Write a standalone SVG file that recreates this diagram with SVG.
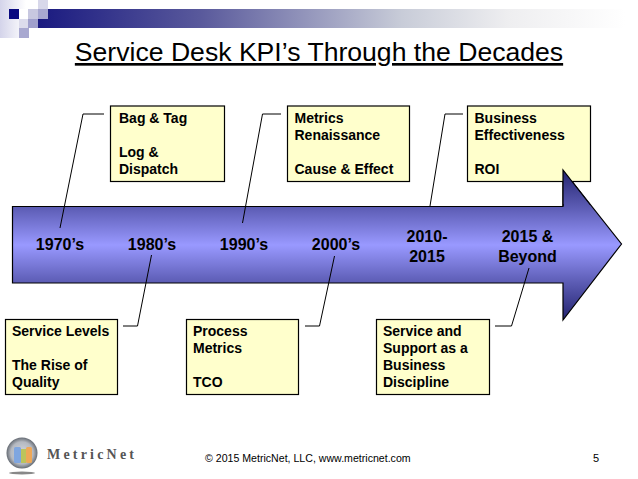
<svg xmlns="http://www.w3.org/2000/svg" width="638" height="479" viewBox="0 0 638 479">
<defs>
<linearGradient id="bar" gradientUnits="userSpaceOnUse" x1="38" x2="625" y1="0" y2="0"><stop offset="0" stop-color="#1a1a80"/><stop offset="0.28" stop-color="#5a5a9c"/><stop offset="0.62" stop-color="#c8ccd8"/><stop offset="0.8" stop-color="#eeeef0"/><stop offset="1" stop-color="#ffffff"/></linearGradient>
<linearGradient id="strip" x1="0" x2="1" y1="0" y2="0"><stop offset="0" stop-color="#d4d4ea"/><stop offset="1" stop-color="#ffffff"/></linearGradient>
<linearGradient id="arrow" gradientUnits="userSpaceOnUse" x1="0" y1="170" x2="0" y2="320"><stop offset="0" stop-color="#23236f"/><stop offset="0.25" stop-color="#5c5cb4"/><stop offset="0.5" stop-color="#9999ff"/><stop offset="0.75" stop-color="#5c5cb4"/><stop offset="1" stop-color="#23236f"/></linearGradient>
<radialGradient id="globe"><stop offset="0" stop-color="#d4d8de"/><stop offset="0.72" stop-color="#b4b8c0"/><stop offset="1" stop-color="#666c74"/></radialGradient>
</defs>
<style>
text{font-family:"Liberation Sans",Arial,sans-serif;fill:#000}
.box{fill:#ffffcc;stroke:#000;stroke-width:1.2}
.t{font-size:14px;font-weight:bold}
.y{font-size:16px;font-weight:bold;text-anchor:middle}
.c{fill:none;stroke:#000;stroke-width:1}
</style>
<rect width="638" height="479" fill="#fff"/>
<g id="header">
<rect x="38" y="9" width="600" height="19" fill="url(#bar)"/>
<rect x="0" y="0" width="26" height="38" fill="url(#strip)"/>
<rect x="9" y="9" width="10" height="10" fill="#0a0a80"/>
<rect x="19" y="9" width="9" height="10" fill="#ffffff"/>
<rect x="28" y="9" width="10" height="10" fill="#c8c8e0"/>
<rect x="38" y="9" width="10" height="10" fill="#a8a8d0"/>
<rect x="38" y="0" width="10" height="9" fill="#d8d8ea"/>
<rect x="19" y="19" width="10" height="9" fill="#dcdcec"/>
<rect x="28" y="19" width="10" height="9" fill="#a0a0cc"/>
<rect x="19" y="28" width="10" height="10" fill="#a8a8d0"/>
</g>
<text id="title" x="319" y="61" font-size="26.600" text-anchor="middle" text-decoration="underline">Service Desk KPI’s Through the Decades</text>
<g id="timeline-arrow"><path d="M12.500 206.500H563V170L621.500 244L563 320V283H12.500Z" fill="url(#arrow)" stroke="#000" stroke-width="1.200"/></g>
<g id="connectors">
<path class="c" d="M60 228L83 114H104"/>
<path class="c" d="M151.500 255L137.500 326H123"/>
<path class="c" d="M242.500 223L262.500 114H281"/>
<path class="c" d="M334.500 256L319.500 326H305"/>
<path class="c" d="M430 206L445 114H463"/>
<path class="c" d="M529 268L511.500 326H495"/>
</g>
<g id="box-bag"><rect class="box" x="110.500" y="106" width="114" height="75.500"/><text class="t" x="119" y="123">Bag &amp; Tag</text><text class="t" x="119" y="157">Log &amp;</text><text class="t" x="119" y="174">Dispatch</text></g>
<g id="box-metrics"><rect class="box" x="287.500" y="106" width="122" height="75.500"/><text class="t" x="294.500" y="123">Metrics</text><text class="t" x="294.500" y="140">Renaissance</text><text class="t" x="294.500" y="174">Cause &amp; Effect</text></g>
<g id="box-business"><rect class="box" x="467.500" y="106" width="123" height="75.500"/><text class="t" x="474.500" y="123">Business</text><text class="t" x="474.500" y="140">Effectiveness</text><text class="t" x="474.500" y="174">ROI</text></g>
<path d="M563 170L590 204H563Z" fill="url(#arrow)"/>
<path d="M563 206V170L590 204.500" fill="none" stroke="#000" stroke-width="1.200"/>
<g id="box-service"><rect class="box" x="5.500" y="319.500" width="112" height="75"/><text class="t" x="12" y="336">Service Levels</text><text class="t" x="12" y="370">The Rise of</text><text class="t" x="12" y="387">Quality</text></g>
<g id="box-process"><rect class="box" x="186.500" y="319.500" width="112" height="75"/><text class="t" x="193" y="336">Process</text><text class="t" x="193" y="353">Metrics</text><text class="t" x="193" y="387">TCO</text></g>
<g id="box-support"><rect class="box" x="376.500" y="319.500" width="113" height="75"/><text class="t" x="383" y="336">Service and</text><text class="t" x="383" y="353">Support as a</text><text class="t" x="383" y="370">Business</text><text class="t" x="383" y="387">Discipline</text></g>
<g id="years">
<text class="y" x="60" y="250">1970’s</text>
<text class="y" x="152" y="250">1980’s</text>
<text class="y" x="244" y="250">1990’s</text>
<text class="y" x="336" y="250">2000’s</text>
<text class="y" x="427" y="242">2010-</text><text class="y" x="427" y="262">2015</text>
<text class="y" x="527.500" y="242">2015 &amp;</text><text class="y" x="527.500" y="262">Beyond</text>
</g>
<g id="logo">
<ellipse cx="22" cy="473" rx="13" ry="1.500" fill="#888"/>
<circle cx="22" cy="453" r="15.500" fill="url(#globe)"/>
<rect x="14" y="447" width="7" height="16" rx="1.500" fill="#7fa6e0"/><rect x="21" y="449" width="5" height="14" fill="#bcc45c"/><rect x="26" y="447" width="6" height="16" rx="1.500" fill="#eea858"/>
<text x="47" y="459" font-size="14" font-weight="bold" letter-spacing="3.200" style="font-family:'Liberation Serif',serif;fill:#555">MetricNet</text>
</g>
<text id="footer" x="205" y="462" font-size="10.600">© 2015 MetricNet, LLC, www.metricnet.com</text>
<text id="page" x="596" y="462" font-size="11" text-anchor="middle">5</text>
</svg>
